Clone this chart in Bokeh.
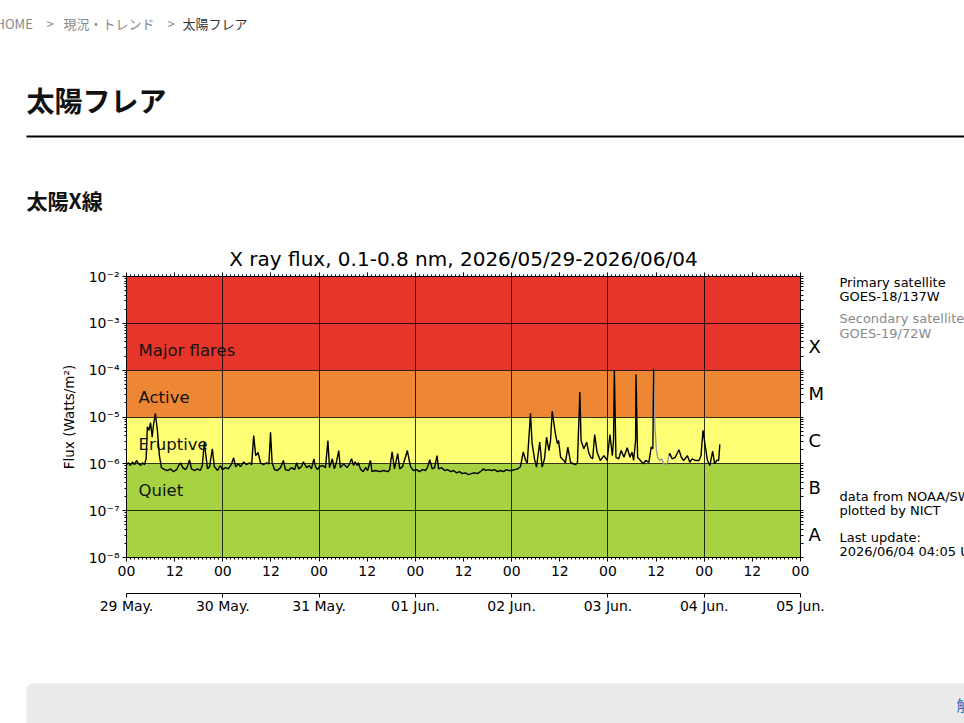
import numpy as np
import pandas as pd
from bokeh.plotting import figure
from bokeh.layouts import column, row
from bokeh.models import (DatetimeAxis, LogAxis, FixedTicker, DatetimeTickFormatter,
                          CustomJSTickFormatter, Label, BoxAnnotation, Range1d)
from bokeh.embed import file_html
from bokeh.resources import INLINE
from bokeh.core.properties import value

# ---------------- data ----------------
START = pd.Timestamp("2026-05-29 00:00")
END = pd.Timestamp("2026-06-05 00:00")

# primary satellite (GOES-18), hours since 2026-05-29 00:00 UT, flux in W/m^2
primary_hours = [
    0.0, 0.5, 1.0, 1.5, 2.0, 2.5, 3.0, 3.5, 4.0, 4.5, 4.9, 5.2, 5.6, 6.0, 6.4, 6.7, 7.2, 7.7, 8.2, 8.7,
    9.5, 10.2, 11.0, 11.7, 12.5, 13.0, 13.5, 14.0, 14.7, 15.2, 15.7, 16.2, 17.0, 17.7, 18.4, 18.9, 19.4,
    19.8, 20.2, 20.7, 21.4, 21.9, 22.7, 23.4, 23.9,
    24.7, 25.4, 26.2, 26.7, 27.2, 27.9, 28.4, 29.2, 29.9, 30.7, 31.2, 31.7, 32.2, 32.8, 33.4, 34.1, 34.9,
    35.5, 35.9, 36.3, 36.9, 37.6, 38.4, 39.1, 39.6, 40.4, 41.1, 41.9, 42.4, 42.9, 43.6, 44.1, 44.9, 45.6,
    46.1, 46.7, 47.1, 47.6,
    48.1, 48.9, 49.6, 50.2, 50.6, 51.3, 51.8, 52.3, 52.9, 53.3, 54.1, 55.0, 55.6, 56.1, 56.6, 57.0, 57.5,
    57.8, 58.3, 59.0, 59.6, 60.1, 60.8, 61.2, 62.1, 63.1, 64.1, 65.1, 65.6, 66.2, 66.8, 67.6, 68.1, 68.8,
    69.4, 70.0, 70.4, 70.8, 71.5,
    72.3, 73.0, 73.8, 74.5, 75.0, 75.6, 76.2, 76.8, 77.4, 77.8, 78.5, 79.3, 80.0, 80.8, 81.5, 82.3, 83.0,
    83.7, 84.5, 85.2, 86.0, 86.7, 87.5, 88.2, 89.0, 89.5, 90.2, 91.0, 91.7, 92.5, 93.2, 94.0, 94.7, 95.2,
    96.0, 96.7, 97.5, 98.2, 98.9, 99.5, 99.9, 100.7, 101.1, 101.7, 102.2, 103.0, 103.6, 104.2, 104.7,
    105.3, 105.7, 106.1, 106.9, 107.4, 107.7, 108.2, 109.0, 109.4, 110.0, 110.7, 111.4, 111.9, 112.4,
    113.0, 113.3, 114.0, 114.7, 115.2, 115.7, 116.2, 116.7, 117.3, 118.1, 119.0, 119.8,
    120.5, 121.1, 121.4, 121.6, 122.0, 122.7, 123.3, 124.0, 124.8, 125.5, 126.0, 126.4, 126.9, 127.0,
    127.4, 128.1, 128.8, 129.4, 130.2, 130.8, 131.2, 131.4,
    float("nan"),
    135.2, 135.4, 136.0, 136.8, 137.7, 138.3, 138.9, 139.8, 140.4, 141.0, 141.8, 142.7, 143.2, 143.7,
    144.3, 144.8, 145.4, 146.1, 146.6, 147.2, 147.6, 147.9,
]
primary_flux = [
    9.6e-7, 1.05e-6, 9.2e-7, 1.1e-6, 9.6e-7, 1.18e-6, 1.0e-6, 9.2e-7, 1.05e-6, 9.6e-7, 1.3e-6, 6.2e-6,
    5.2e-6, 7.6e-6, 3.7e-6, 6.5e-6, 1.19e-5, 5.2e-6, 1.5e-6, 8.3e-7,
    7.5e-7, 7.2e-7, 7.8e-7, 6.8e-7, 7.5e-7, 9.2e-7, 1.05e-6, 8.3e-7, 7.5e-7, 8.7e-7, 1.22e-6, 7.8e-7,
    7.2e-7, 7.8e-7, 7.2e-7, 9.2e-7, 2.85e-6, 1.5e-6, 7.8e-7, 8.7e-7, 2.1e-6, 8.7e-7, 7.2e-7, 9.2e-7, 7.5e-7,
    8.3e-7, 7.8e-7, 1.0e-6, 1.35e-6, 8.7e-7, 1.0e-6, 8.7e-7, 1.1e-6, 9.6e-7, 1.05e-6, 9.6e-7, 4.0e-6,
    1.5e-6, 1.75e-6, 1.05e-6, 9.6e-7, 1.05e-6, 1.0e-6, 4.7e-6, 1.05e-6, 7.5e-7, 7.2e-7, 8.3e-7, 1.18e-6,
    7.5e-7, 7.2e-7, 8.3e-7, 7.5e-7, 1.05e-6, 7.8e-7, 8.7e-7, 1.1e-6, 8.3e-7, 9.2e-7, 7.8e-7, 1.28e-6,
    8.7e-7, 7.5e-7,
    8.7e-7, 9.2e-7, 8.3e-7, 3.15e-6, 8.3e-7, 1.28e-6, 7.8e-7, 1.05e-6, 1.92e-6, 8.3e-7, 1.0e-6, 8.3e-7,
    1.0e-6, 1.28e-6, 9.2e-7, 1.1e-6, 9.2e-7, 1.05e-6, 7.8e-7, 6.8e-7, 8.3e-7, 7.2e-7, 1.18e-6, 6.8e-7,
    7.2e-7, 6.8e-7, 7.2e-7, 6.8e-7, 7.5e-7, 1.8e-6, 7.8e-7, 1.65e-6, 7.8e-7, 8.7e-7, 1.28e-6, 1.92e-6,
    1.28e-6, 8.7e-7, 7.2e-7,
    7.5e-7, 6.8e-7, 7.5e-7, 7.2e-7, 8.3e-7, 1.22e-6, 7.8e-7, 8.3e-7, 1.5e-6, 7.8e-7, 8.3e-7, 7.2e-7,
    7.5e-7, 6.8e-7, 7.2e-7, 6.4e-7, 6.8e-7, 6.2e-7, 6.4e-7, 5.9e-7, 6.2e-7, 6.4e-7, 6.2e-7, 6.8e-7,
    7.8e-7, 7.2e-7, 7.5e-7, 7.2e-7, 7.5e-7, 6.8e-7, 7.2e-7, 6.8e-7, 7.5e-7, 7.2e-7,
    7.2e-7, 7.5e-7, 7.8e-7, 8.7e-7, 1.8e-6, 1.18e-6, 1.05e-6, 1.2e-5, 2.7e-6, 1.28e-6, 8.5e-7, 2.9e-6,
    8.5e-7, 1.28e-6, 3.7e-6, 1.92e-6, 3.15e-6, 1.33e-5, 4.4e-6, 2.7e-6, 3.15e-6, 1.38e-6, 1.18e-6,
    1.05e-6, 2.26e-6, 1.08e-6, 1.0e-6, 9.6e-7, 1.05e-6, 3.4e-5, 3.15e-6, 2.1e-6, 2.9e-6, 1.75e-6,
    1.38e-6, 1.28e-6, 4.2e-6, 1.77e-6, 1.18e-6, 1.5e-6, 1.18e-6,
    4.2e-6, 1.5e-6, 3.15e-6, 9.8e-5, 1.38e-6, 1.28e-6, 1.92e-6, 1.38e-6, 2.2e-6, 1.38e-6, 1.77e-6,
    1.18e-6, 3.15e-6, 8.1e-5, 1.38e-6, 1.18e-6, 1.0e-6, 1.18e-6, 1.08e-6, 2.3e-6, 2.1e-6, 1.07e-4,
    float("nan"),
    1.5e-6, 1.67e-6, 1.28e-6, 1.38e-6, 2.0e-6, 1.38e-6, 1.18e-6, 1.5e-6, 1.08e-6, 1.28e-6, 1.18e-6,
    1.18e-6, 1.5e-6, 5.2e-6, 2.26e-6, 1.18e-6, 9.2e-7, 1.87e-6, 1.0e-6, 1.2e-6, 1.18e-6, 2.6e-6,
]

# secondary satellite (GOES-19), visible where the primary has a gap
secondary_hours = [131.4, 131.7, 132.1, 132.4, 132.9, 133.4, 133.9, 134.4, 134.9, 135.2]
secondary_flux = [1.07e-4, 6.1e-6, 1.92e-6, 1.38e-6, 1.18e-6, 1.28e-6, 1.0e-6, 9.6e-7, 1.1e-6, 1.5e-6]

band_names = ["Quiet", "Eruptive", "Active", "Major flares"]
band_low = [1e-8, 1e-6, 1e-5, 1e-4]
band_high = [1e-6, 1e-5, 1e-4, 1e-2]

class_letters = ["A", "B", "C", "M", "X"]
class_centers = [10 ** -7.5, 10 ** -6.5, 10 ** -5.5, 10 ** -4.5, 10 ** -3.5]

decades = [1e-8, 1e-7, 1e-6, 1e-5, 1e-4, 1e-3, 1e-2]
decade_labels = ["10⁻⁸", "10⁻⁷", "10⁻⁶", "10⁻⁵", "10⁻⁴", "10⁻³", "10⁻²"]

title_text = "X ray flux, 0.1-0.8 nm, 2026/05/29-2026/06/04"

# ---------------- styles / placement ----------------
band_colors = ["#a7d342", "#ffff75", "#ee8734", "#e8352a"]
band_label_y = [10 ** -6.58, 10 ** -5.58, 10 ** -4.58, 10 ** -3.58]
FONT = "DejaVu Sans"
JP = "Noto Sans CJK JP"

MS_H = 3600 * 1000.0
x0 = START.value / 1e6
x1 = END.value / 1e6
prim_x = [x0 + h * MS_H for h in primary_hours]
sec_x = [x0 + h * MS_H for h in secondary_hours]

day_ticks = [x0 + d * 24 * MS_H for d in range(8)]
half_day_ticks = [x0 + k * 12 * MS_H for k in range(15)]
hour_ticks = [x0 + k * MS_H for k in range(7 * 24 + 1)]
minor_log = [m * 10.0 ** k for k in range(-8, -2) for m in range(2, 10)]

# ================= chart figure =================
p = figure(width=830, height=400, x_axis_type="datetime", y_axis_type="log",
           x_range=Range1d(x0, x1), y_range=Range1d(1e-8, 1e-2),
           output_backend="svg", toolbar_location=None,
           min_border_left=126, min_border_right=30, min_border_top=36, min_border_bottom=83,
           background_fill_color="white", border_fill_color="white")
p.outline_line_color = "black"
p.outline_line_width = 1

bands = p.quad(left=x0, right=x1, bottom=band_low, top=band_high,
               fill_color=band_colors, line_color=None)
bands.level = "image"

p.xgrid.ticker = FixedTicker(ticks=day_ticks)
p.ygrid.ticker = FixedTicker(ticks=decades)
for g in (p.xgrid, p.ygrid):
    g.grid_line_color = "black"
    g.grid_line_alpha = 0.8
    g.grid_line_width = 1

p.text(x=[x0 + 3 * MS_H] * 4, y=band_label_y, text=band_names,
       text_font=value(FONT), text_font_size="16.5px", text_color="#111111",
       text_baseline="middle", text_align="left")

p.line(sec_x, secondary_flux, line_color="#999999", line_width=1.4)
p.line(prim_x, primary_flux, line_color="black", line_width=1.4)

p.title.text = title_text
p.title.align = "center"
p.title.text_font = FONT
p.title.text_font_size = "20px"
p.title.text_font_style = "normal"
p.title.text_color = "black"
p.title.standoff = 4


def style_axis(ax, size="14px"):
    ax.axis_line_color = "black"
    ax.major_tick_line_color = "black"
    ax.minor_tick_line_color = "black"
    ax.major_tick_in = 0
    ax.minor_tick_in = 0
    ax.major_tick_out = 4
    ax.minor_tick_out = 2
    ax.major_label_text_font = FONT
    ax.major_label_text_font_size = size
    ax.major_label_text_color = "black"


yl = p.yaxis[0]
yl.ticker = FixedTicker(ticks=decades, minor_ticks=minor_log)
yl.major_label_overrides = dict(zip(decades, decade_labels))
style_axis(yl)
yl.major_label_standoff = 3
yl.axis_label = "Flux (Watts/m²)"
yl.axis_label_text_font = FONT
yl.axis_label_text_font_size = "13.5px"
yl.axis_label_text_font_style = "normal"
yl.axis_label_text_color = "black"
yl.axis_label_standoff = 9

yr = LogAxis(ticker=FixedTicker(ticks=class_centers, minor_ticks=decades + minor_log),
             major_label_overrides=dict(zip(class_centers, class_letters)))
style_axis(yr, "18px")
yr.major_tick_line_color = None
yr.minor_tick_out = 3
yr.major_label_standoff = 4
p.add_layout(yr, "right")

xb = p.xaxis[0]
xb.ticker = FixedTicker(ticks=half_day_ticks, minor_ticks=hour_ticks)
xb.formatter = DatetimeTickFormatter(hours="%H", hourmin="%H", days="%H", strip_leading_zeros=False)
style_axis(xb)
xb.major_label_standoff = 4
xb.axis_label = " "
xb.axis_label_text_font_size = "9px"
xb.axis_label_standoff = 2

xd = DatetimeAxis(ticker=FixedTicker(ticks=day_ticks),
                  formatter=DatetimeTickFormatter(days="%d %b.", hours="%d %b.", hourmin="%d %b.",
                                                  strip_leading_zeros=False))
style_axis(xd)
xd.minor_tick_line_color = None
xd.major_label_standoff = 0
p.add_layout(xd, "below")

xt = DatetimeAxis(ticker=FixedTicker(ticks=half_day_ticks, minor_ticks=hour_ticks),
                  formatter=CustomJSTickFormatter(code="return ''"))
style_axis(xt)
xt.major_label_standoff = 0
p.add_layout(xt, "above")


# ================= page pieces (page pixel coordinates) =================
def page_fig(w, h, xa, xb_, ya, yb):
    f = figure(width=w, height=h, x_range=Range1d(xa, xb_), y_range=Range1d(yb, ya),
               output_backend="svg", toolbar_location=None, min_border=0,
               x_axis_location=None, y_axis_location=None, outline_line_color=None,
               background_fill_color="white", border_fill_color="white")
    f.grid.visible = False
    return f


def put(f, px, py, text, font=JP, size="13px", color="#333333", bold=False):
    f.add_layout(Label(x=px, y=py, text=text, text_font=font, text_font_size=size,
                       text_color=color, text_font_style="bold" if bold else "normal",
                       text_baseline="middle", text_align="left"))


hdr = page_fig(964, 240, 0, 964, 0, 240)
put(hdr, -5, 23, "HOME", color="#888888")
put(hdr, 46, 23, ">", color="#888888")
put(hdr, 63, 23, "現況・トレンド", color="#888888")
put(hdr, 167, 23, ">", color="#888888")
put(hdr, 182, 23, "太陽フレア", color="#333333")
put(hdr, 26, 99, "太陽フレア", size="28px", color="#111111", bold=True)
put(hdr, 26, 199, "太陽X線", size="21px", color="#111111", bold=True)
hdr.add_layout(BoxAnnotation(left=26, right=970, top=135, bottom=137,
                             fill_color="black", fill_alpha=1, line_color=None))

# side panel: its frame is aligned with the chart frame (page y 276..557)
side = page_fig(134, 400, 830, 964, 276, 557)
put(side, 839, 282, "Primary satellite", font=FONT, color="black")
put(side, 839, 296, "GOES-18/137W", font=FONT, color="black")
put(side, 839, 318, "Secondary satellite", font=FONT, color="#8a8a8a")
put(side, 839, 333, "GOES-19/72W", font=FONT, color="#8a8a8a")
put(side, 839, 496, "data from NOAA/SWPC", font=FONT, color="black")
put(side, 839, 510, "plotted by NICT", font=FONT, color="black")
put(side, 839, 537, "Last update:", font=FONT, color="black")
put(side, 839, 551, "2026/06/04 04:05 UT", font=FONT, color="black")

ftr = page_fig(964, 83, 0, 964, 640, 723)
ftr.add_layout(BoxAnnotation(left=26, right=975, top=683, bottom=740,
                             fill_color="#eaeaea", fill_alpha=1, line_color=None, border_radius=6))
put(ftr, 956, 704, "解説", size="15px", color="#2f6db5")

layout = column(hdr, row(p, side, spacing=0), ftr, spacing=0)

open("out.html", "w").write(file_html(layout, INLINE))
